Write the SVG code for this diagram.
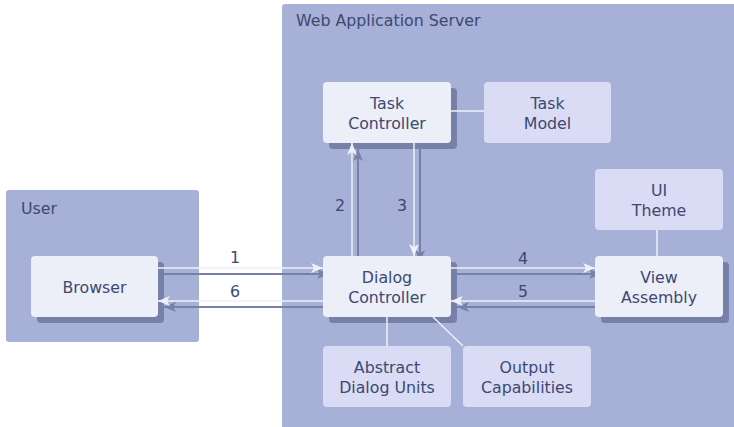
<svg xmlns="http://www.w3.org/2000/svg" width="734" height="427" viewBox="0 0 734 427">
  <style>
    text { font-family: "DejaVu Sans", "Liberation Sans", sans-serif; font-size: 15.8px; fill: #3d4873; }
    .label { text-anchor: middle; }
    .title { text-anchor: start; }
    .container { fill: #a7b0d6; }
    .node { fill: #eceef8; }
    .node2 { fill: #d9dcf4; }
    .shadow { fill: #7680a9; }
    .line { stroke: #eef0fa; stroke-width: 1.5; fill: none; }
    .link { stroke: #eef0fa; stroke-width: 1.5; fill: none; marker-end: url(#arrow); }
    .link-shadow { stroke: #7680a9; stroke-width: 2; fill: none; marker-end: url(#arrow-shadow); }
  </style>
  <defs>
    <marker id="arrow" viewBox="0 0 12 10" refX="12" refY="5" markerWidth="12" markerHeight="10" markerUnits="userSpaceOnUse" orient="auto">
      <path d="M0,0 L12,5 L0,10 L3,5 z" fill="#eef0fa"/>
    </marker>
    <marker id="arrow-shadow" viewBox="0 0 12 10" refX="12" refY="5" markerWidth="12" markerHeight="10" markerUnits="userSpaceOnUse" orient="auto">
      <path d="M0,0 L12,5 L0,10 L3,5 z" fill="#7680a9"/>
    </marker>
  </defs>

  <!-- containers -->
  <g id="user">
    <rect class="container" x="6" y="190" width="193" height="152" rx="3"/>
    <text class="title" x="21" y="214">User</text>
  </g>
  <g id="web-application-server">
    <rect class="container" x="282" y="4" width="455" height="426" rx="3"/>
    <text class="title" x="296" y="26">Web Application Server</text>
  </g>

  <!-- drop shadows of the raised nodes -->
  <g id="node-shadows">
    <rect class="shadow" x="37" y="262" width="127" height="61" rx="4"/>
    <rect class="shadow" x="329" y="88" width="128" height="61" rx="4"/>
    <rect class="shadow" x="329" y="262" width="128" height="61" rx="4"/>
    <rect class="shadow" x="601" y="262" width="128" height="61" rx="4"/>
  </g>

  <!-- connectors -->
  <g id="connectors">
    <!-- shadows of the numbered flows -->
    <line class="link-shadow" x1="164" y1="274" x2="329" y2="274"/>
    <line class="link-shadow" x1="329" y1="307" x2="164" y2="307"/>
    <line class="link-shadow" x1="358" y1="262" x2="358" y2="149"/>
    <line class="link-shadow" x1="420" y1="149" x2="420" y2="262"/>
    <line class="link-shadow" x1="457" y1="274" x2="601" y2="274"/>
    <line class="link-shadow" x1="601" y1="307" x2="457" y2="307"/>
    <!-- numbered flows -->
    <line class="link" x1="158" y1="268" x2="323" y2="268"/>
    <line class="link" x1="323" y1="301" x2="158" y2="301"/>
    <line class="link" x1="352" y1="256" x2="352" y2="143"/>
    <line class="link" x1="414" y1="143" x2="414" y2="256"/>
    <line class="link" x1="451" y1="268" x2="595" y2="268"/>
    <line class="link" x1="595" y1="301" x2="451" y2="301"/>
    <!-- plain associations -->
    <line class="line" x1="451" y1="111" x2="484" y2="111"/>
    <line class="line" x1="657" y1="230" x2="657" y2="256"/>
    <line class="line" x1="387" y1="317" x2="387" y2="346"/>
    <line class="line" x1="433" y1="317" x2="463" y2="346"/>
    <!-- flow numbers -->
    <text class="label" x="235" y="263">1</text>
    <text class="label" x="235" y="296.5">6</text>
    <text class="label" x="340" y="210.5">2</text>
    <text class="label" x="402" y="210.5">3</text>
    <text class="label" x="523" y="264">4</text>
    <text class="label" x="523" y="296.5">5</text>
  </g>

  <!-- nodes -->
  <g id="browser">
    <rect class="node" x="31" y="256" width="127" height="61" rx="4"/>
    <text class="label" x="94.5" y="293">Browser</text>
  </g>
  <g id="task-controller">
    <rect class="node" x="323" y="82" width="128" height="61" rx="4"/>
    <text class="label" x="387" y="109">Task</text>
    <text class="label" x="387" y="129">Controller</text>
  </g>
  <g id="task-model">
    <rect class="node2" x="484" y="82" width="127" height="61" rx="4"/>
    <text class="label" x="547.5" y="109">Task</text>
    <text class="label" x="547.5" y="129">Model</text>
  </g>
  <g id="ui-theme">
    <rect class="node2" x="595" y="169" width="128" height="61" rx="4"/>
    <text class="label" x="659" y="196">UI</text>
    <text class="label" x="659" y="216">Theme</text>
  </g>
  <g id="dialog-controller">
    <rect class="node" x="323" y="256" width="128" height="61" rx="4"/>
    <text class="label" x="387" y="283">Dialog</text>
    <text class="label" x="387" y="303">Controller</text>
  </g>
  <g id="view-assembly">
    <rect class="node" x="595" y="256" width="128" height="61" rx="4"/>
    <text class="label" x="659" y="283">View</text>
    <text class="label" x="659" y="303">Assembly</text>
  </g>
  <g id="abstract-dialog-units">
    <rect class="node2" x="323" y="346" width="128" height="61" rx="4"/>
    <text class="label" x="387" y="373">Abstract</text>
    <text class="label" x="387" y="393">Dialog Units</text>
  </g>
  <g id="output-capabilities">
    <rect class="node2" x="463" y="346" width="128" height="61" rx="4"/>
    <text class="label" x="527" y="373">Output</text>
    <text class="label" x="527" y="393">Capabilities</text>
  </g>
</svg>
